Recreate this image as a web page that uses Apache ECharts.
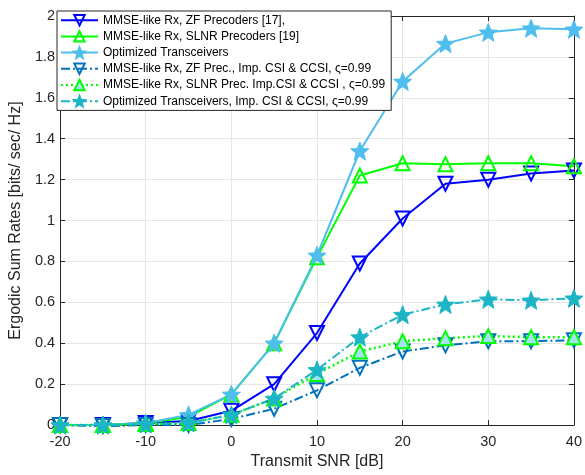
<!DOCTYPE html>
<html><head><meta charset="utf-8">
<script src="https://cdn.jsdelivr.net/npm/echarts@6/dist/echarts.min.js"></script>
<style>html,body{margin:0;padding:0;background:#fff}#c{width:585px;height:475px}</style>
</head><body><div id="c"></div>
<script>
const snr = [-20,-15,-10,-5,0,5,10,15,20,25,30,35,40];
const names = [
  'MMSE-like Rx, ZF Precoders [17],',
  'MMSE-like Rx, SLNR Precoders [19]',
  'Optimized Transceivers',
  'MMSE-like Rx, ZF Prec., Imp. CSI & CCSI, ς=0.99',
  'MMSE-like Rx, SLNR Prec. Imp.CSI & CCSI , ς=0.99',
  'Optimized Transceivers, Imp. CSI & CCSI, ς=0.99'
];
const zfPerfect    = [0,0,0.01,0.02,0.07,0.2,0.45,0.79,1.01,1.18,1.2,1.23,1.245];
const slnrPerfect  = [0,0,0.01,0.04,0.15,0.4,0.82,1.22,1.28,1.275,1.28,1.28,1.265];
const optPerfect   = [0,0,0.01,0.05,0.15,0.4,0.83,1.34,1.68,1.865,1.92,1.94,1.935];
const zfImperfect  = [0,-0.005,0,0,0.03,0.08,0.17,0.28,0.36,0.39,0.41,0.41,0.415];
const slnrImperfect= [0,0,0.005,0.01,0.05,0.13,0.25,0.36,0.41,0.425,0.435,0.43,0.43];
const optImperfect = [0,0,0.005,0.01,0.05,0.13,0.27,0.43,0.54,0.59,0.615,0.61,0.62];
const yTicks = {min:0,max:2,interval:0.2};
const xTicks = {min:-20,max:40,interval:10};

const star = 'path://M0,-10 L2.6,-3.4 L9.5,-3.1 L4.1,1.3 L5.9,8.1 L0,4.2 L-5.9,8.1 L-4.1,1.3 L-9.5,-3.1 L-2.6,-3.4 Z';
const font = 'Liberation Sans, Arial, Helvetica, sans-serif';
const pair = a => snr.map((x,i)=>[x,a[i]]);

function mk(name, data, color, type, width, symbol, rotate, size, fill, bw){
  return {
    name, type:'line', data: pair(data), symbol, symbolSize:size, symbolRotate:rotate,
    lineStyle:{color, width, type},
    itemStyle:{color: fill, borderColor: color, borderWidth: bw},
    emphasis:{disabled:true}, animation:false, clip:false
  };
}
const series = [
  mk(names[0], zfPerfect, '#0000FF', 'solid', 2, 'triangle', 180, 14, 'transparent', 2),
  mk(names[1], slnrPerfect, '#00FF00', 'solid', 2, 'triangle', 0, 14, 'transparent', 2),
  mk(names[2], optPerfect, '#4DBEEE', 'solid', 2, star, 0, 18, '#4DBEEE', 1),
  mk(names[3], zfImperfect, '#0072BD', [9,3,2,3], 2, 'triangle', 180, 14, 'transparent', 2),
  mk(names[4], slnrImperfect, '#00FF00', [2,3], 2.5, 'triangle', 0, 14, '#A6E3F2', 2),
  mk(names[5], optImperfect, '#1CB5C6', [9,3,2,3], 2, star, 0, 18, '#1CB5C6', 1)
];

const axisCommon = {
  axisLine:{show:true,onZero:false,lineStyle:{color:'#262626',width:1}},
  axisTick:{show:true,inside:true,length:5,lineStyle:{color:'#262626'}},
  splitLine:{show:false}
};
const chart = echarts.init(document.getElementById('c'), null, {renderer:'canvas'});
chart.setOption({
  backgroundColor:'#fff',
  textStyle:{fontFamily:font},
  grid:{left:55,right:6,top:16,bottom:47,containLabel:false},
  legend:{
    orient:'vertical', left:57, top:11, itemWidth:37, itemHeight:13, itemGap:3.8,
    backgroundColor:'#fff', borderColor:'#262626', borderWidth:1, padding:[3,6,3,3],
    textStyle:{fontSize:12, color:'#000', fontFamily:font},
    data: names
  },
  xAxis:[
    Object.assign({type:'value', position:'bottom', min:xTicks.min, max:xTicks.max, interval:xTicks.interval,
      name:'Transmit SNR [dB]', nameLocation:'middle', nameGap:23,
      nameTextStyle:{fontSize:16, color:'#262626', fontFamily:font},
      axisLabel:{fontSize:14.5, color:'#262626', margin:9, fontFamily:font}}, axisCommon,
      {splitLine:{show:true,lineStyle:{color:'#e6e6e6',width:1}}}),
    Object.assign({type:'value', position:'top', min:xTicks.min, max:xTicks.max, interval:xTicks.interval,
      axisLabel:{show:false}}, axisCommon)
  ],
  yAxis:[
    Object.assign({type:'value', position:'left', min:yTicks.min, max:yTicks.max, interval:yTicks.interval,
      name:'Ergodic Sum Rates [bits/ sec/ Hz]', nameLocation:'middle', nameGap:27,
      nameTextStyle:{fontSize:16, color:'#262626', fontFamily:font},
      axisLabel:{fontSize:14.5, color:'#262626', margin:5, fontFamily:font}}, axisCommon,
      {splitLine:{show:true,lineStyle:{color:'#e6e6e6',width:1}}}),
    Object.assign({type:'value', position:'right', min:yTicks.min, max:yTicks.max, interval:yTicks.interval,
      axisLabel:{show:false}}, axisCommon)
  ],
  series
});
</script></body></html>
